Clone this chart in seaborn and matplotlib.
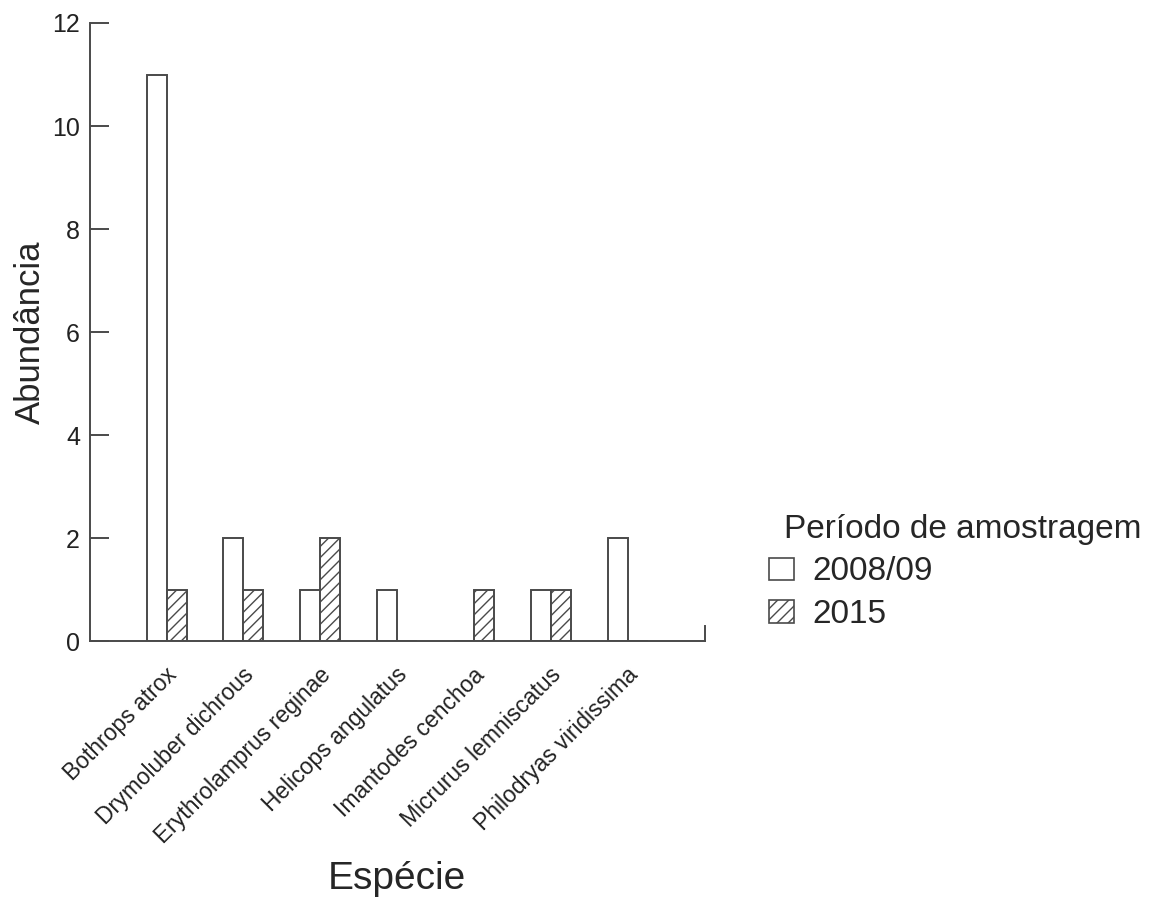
import matplotlib
matplotlib.use('Agg')

import matplotlib.pyplot as plt
import seaborn as sns
import pandas as pd
from matplotlib.patches import Patch
from matplotlib.transforms import ScaledTranslation


especies = [
    "Bothrops atrox",
    "Drymoluber dichrous",
    "Erythrolamprus reginae",
    "Helicops angulatus",
    "Imantodes cenchoa",
    "Micrurus lemniscatus",
    "Philodryas viridissima",
]
periodos = ["2008/09", "2015"]
abund_2008 = [11, 2, 1, 1, 0, 1, 2]
abund_2015 = [1, 1, 2, 0, 1, 1, 0]

df = pd.DataFrame({
    "Espécie": especies * 2,
    "Abundância": abund_2008 + abund_2015,
    "Período": [periodos[0]] * len(especies) + [periodos[1]] * len(especies),
})

sns.set_style("white")
plt.rcParams['font.family'] = ['Liberation Sans', 'DejaVu Sans']
plt.rcParams['hatch.color'] = '#555555'
plt.rcParams['hatch.linewidth'] = 1.0

edge = '#4a4a4a'

fig = plt.figure(figsize=(11.49, 8.98), dpi=100)
ax = fig.add_axes([0.078, 0.286, 0.5355, 0.6884])

sns.barplot(
    data=df,
    x="Espécie",
    y="Abundância",
    hue="Período",
    palette=["white", "white"],
    edgecolor=edge,
    linewidth=1.4,
    width=0.52,
    gap=0,
    legend=False,
    ax=ax
)

for bar in ax.containers[1]:
    bar.set_hatch('///')

ax.set_xlim(-1, len(especies))
ax.set_ylim(0, 12)
ax.set_yticks(range(0, 13, 2))

for side in ['left', 'bottom', 'right']:
    ax.spines[side].set_color(edge)
    ax.spines[side].set_linewidth(1.4)
ax.spines['top'].set_visible(False)
ax.spines['right'].set_bounds(0, 0.3)

ax.tick_params(axis='y', left=True, direction='in', length=13.5,
               width=1.4, color=edge, labelsize=18, pad=7)
ax.tick_params(axis='x', length=0, labelsize=16.5, pad=16)

shift = ScaledTranslation(15 / 100, 0, fig.dpi_scale_trans)
for lab in ax.get_xticklabels():
    lab.set_rotation(45)
    lab.set_ha('right')
    lab.set_va('top')
    lab.set_color('#222222')
    lab.set_transform(lab.get_transform() + shift)
plt.setp(ax.get_yticklabels(), color='#222222')

ax.set_xlabel("Espécie", fontsize=28)
ax.set_ylabel("Abundância", fontsize=25)
ax.xaxis.set_label_coords(0.499, -0.355)
ax.yaxis.set_label_coords(-0.070, 0.5)

handles = [
    Patch(facecolor='white', edgecolor=edge, linewidth=1.2),
    Patch(facecolor='white', edgecolor=edge, linewidth=1.2, hatch='///'),
]
leg = ax.legend(
    handles,
    periodos,
    title="Período de amostragem",
    loc='center left',
    bbox_to_anchor=(1.056, 0.112),
    frameon=False,
    fontsize=24,
    title_fontsize=24,
    handlelength=0.75,
    handleheight=0.65,
    handletextpad=0.55,
    labelspacing=0.35,
    alignment='left'
)
title = leg.get_title()
title.set_transform(title.get_transform() +
                    ScaledTranslation(15 / 100, 0, fig.dpi_scale_trans))

fig.savefig("out.png", dpi=100)
plt.close()
